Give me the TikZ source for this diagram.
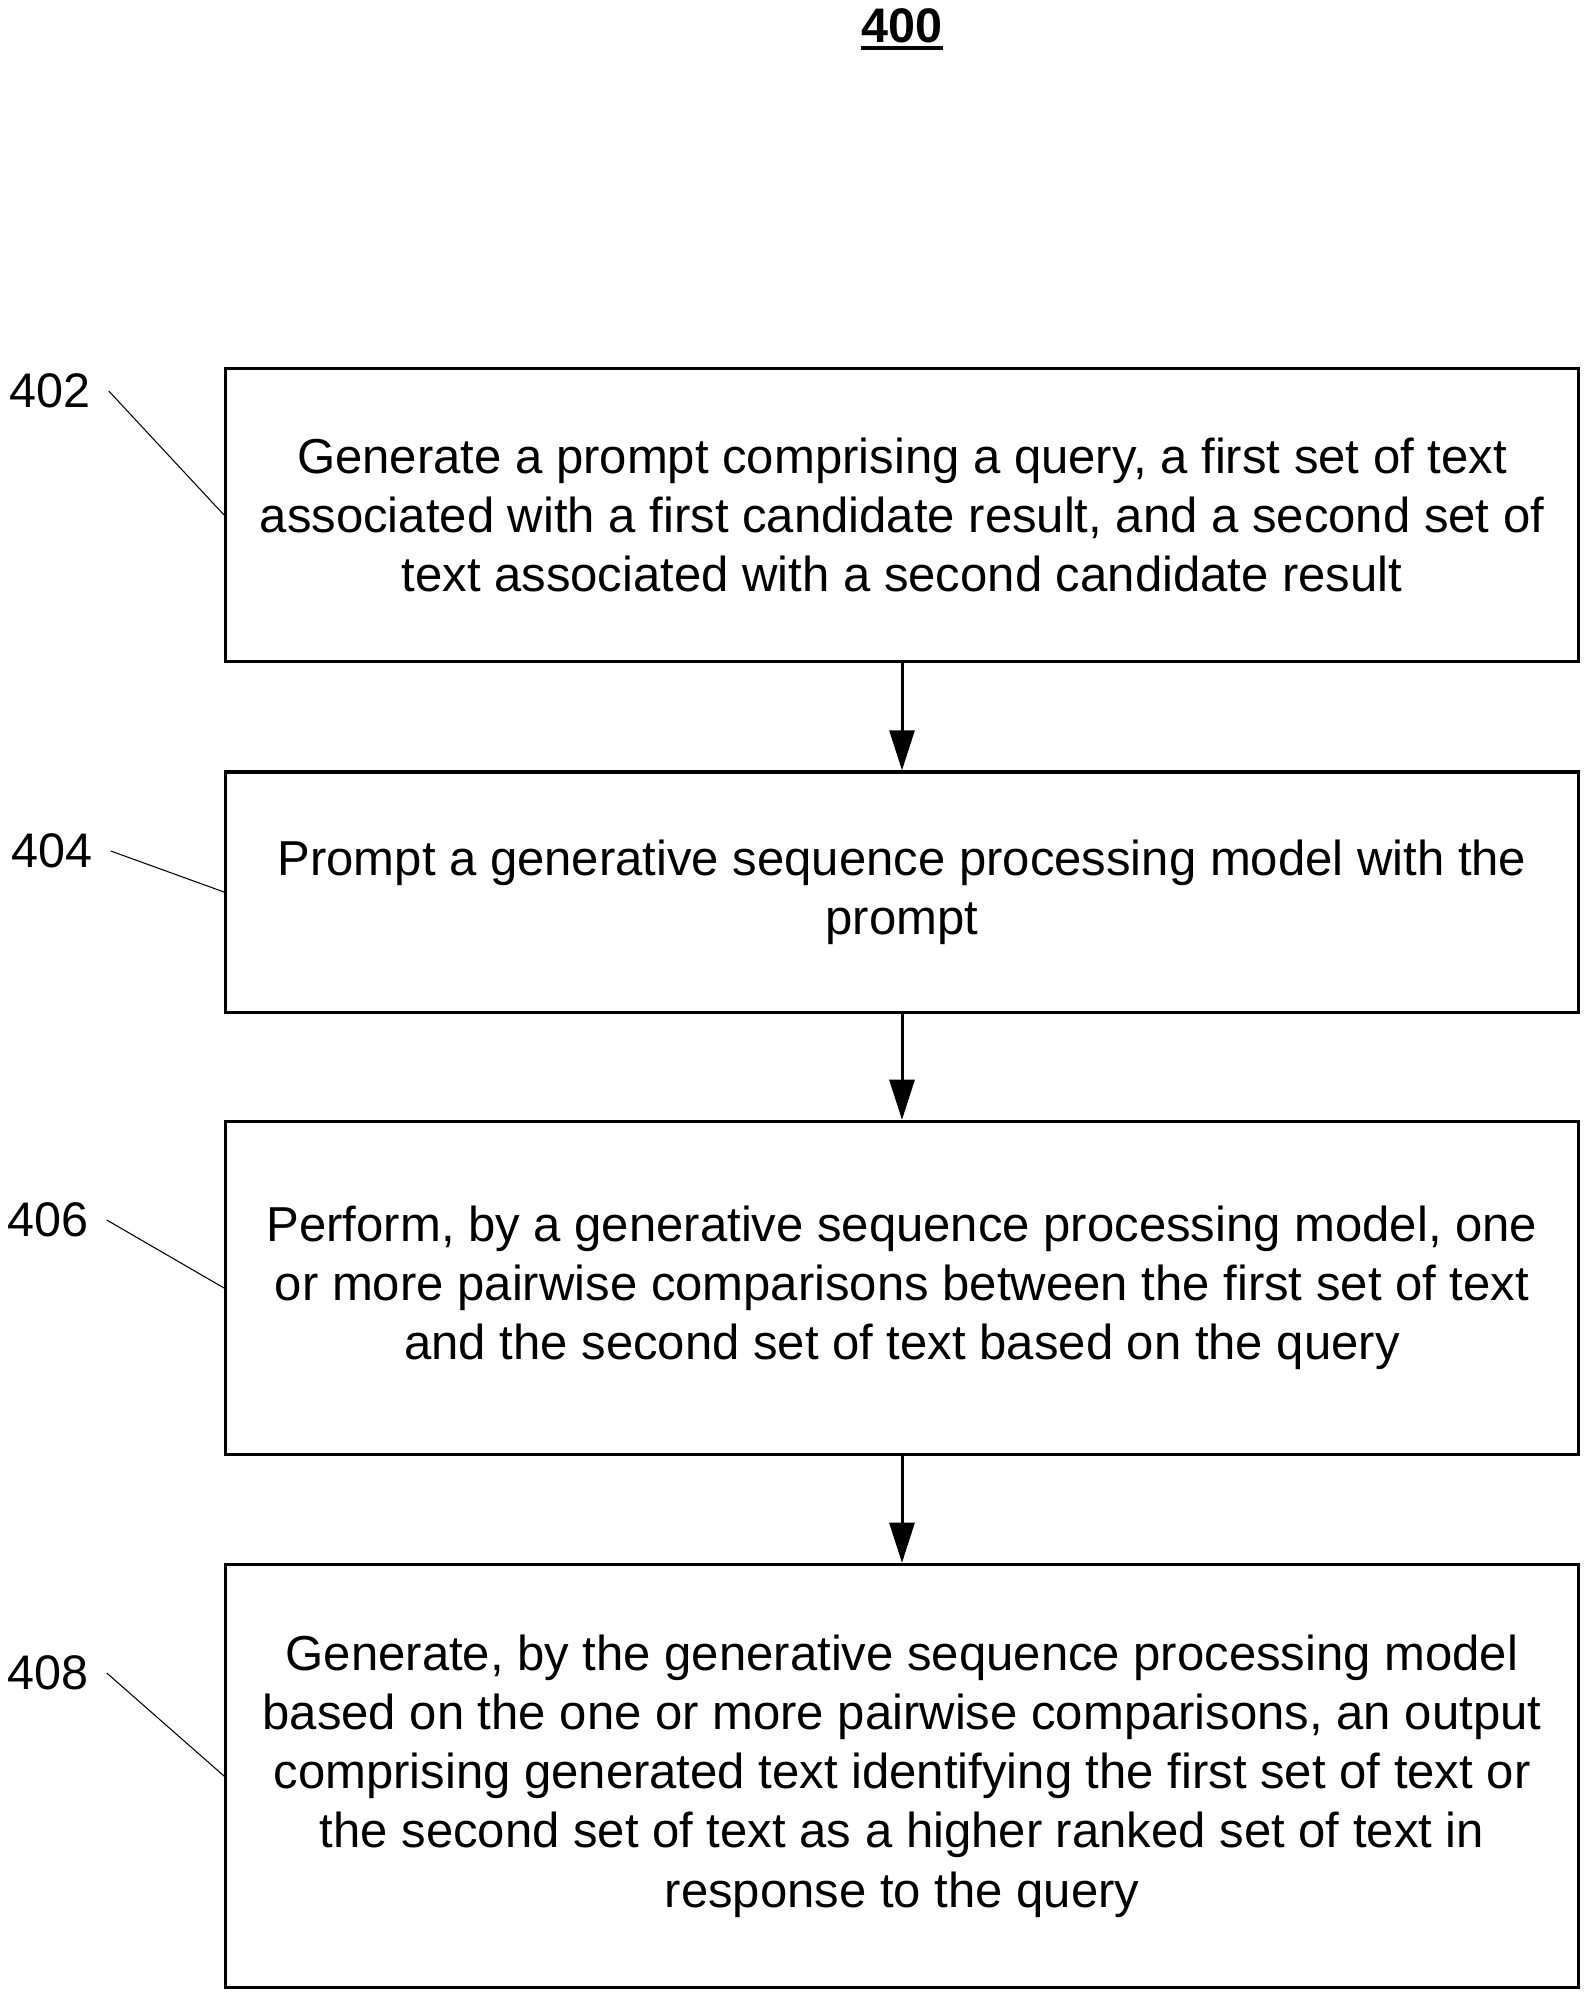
\documentclass[tikz,border=0pt]{standalone}
\usepackage{fontspec}
\setmainfont{Liberation Sans}
\usetikzlibrary{arrows.meta}

\begin{document}
\begin{tikzpicture}[x=0.01cm, y=-0.01cm,
    stepbox/.style={draw, line width=0.9pt, minimum width=13.52cm, align=center,
        font=\fontsize{13.95pt}{16.85pt}\selectfont},
    refnum/.style={inner xsep=5pt, inner ysep=0pt, font=\fontsize{13.8pt}{16.7pt}\selectfont},
    leader/.style={line width=0.3pt},
    flow/.style={line width=0.85pt, -{Triangle[width=7.1pt, length=11.4pt]}}]

    \useasboundingbox (0,0) rectangle (1588,1999);

    % Figure number
    \node[inner sep=0pt, font=\fontsize{13.8pt}{16.7pt}\selectfont\bfseries] (fig) at (902,26) {400};
    \draw[line width=1.1pt] ([yshift=-1.6pt]fig.base west) -- ([yshift=-1.6pt]fig.base east);

    % Steps
    \node[stepbox, minimum height=2.93cm] (b402) at (902,515) {Generate a prompt comprising a query, a first set of text\\
        associated with a first candidate result, and a second set of\\
        text associated with a second candidate result};
    \node[stepbox, minimum height=2.40cm] (b404) at (902,892) {Prompt a generative sequence processing model with the\\
        prompt};
    \node[stepbox, minimum height=3.33cm] (b406) at (902,1288) {Perform, by a generative sequence processing model, one\\
        or more pairwise comparisons between the first set of text\\
        and the second set of text based on the query};
    \node[stepbox, minimum height=4.23cm] (b408) at (902,1776) {Generate, by the generative sequence processing model\\
        based on the one or more pairwise comparisons, an output\\
        comprising generated text identifying the first set of text or\\
        the second set of text as a higher ranked set of text in\\
        response to the query};

    % Reference numerals
    \node[refnum] (l402) at (50,391) {402};
    \node[refnum] (l404) at (52,851) {404};
    \node[refnum] (l406) at (48,1220) {406};
    \node[refnum] (l408) at (48,1673) {408};

    \draw[leader] (l402.east) -- (b402.west);
    \draw[leader] (l404.east) -- (b404.west);
    \draw[leader] (l406.east) -- (b406.west);
    \draw[leader] (l408.east) -- (b408.west);

    % Flow
    \draw[flow] (b402) -- (b404);
    \draw[flow] (b404) -- (b406);
    \draw[flow] (b406) -- (b408);

\end{tikzpicture}
\end{document}
